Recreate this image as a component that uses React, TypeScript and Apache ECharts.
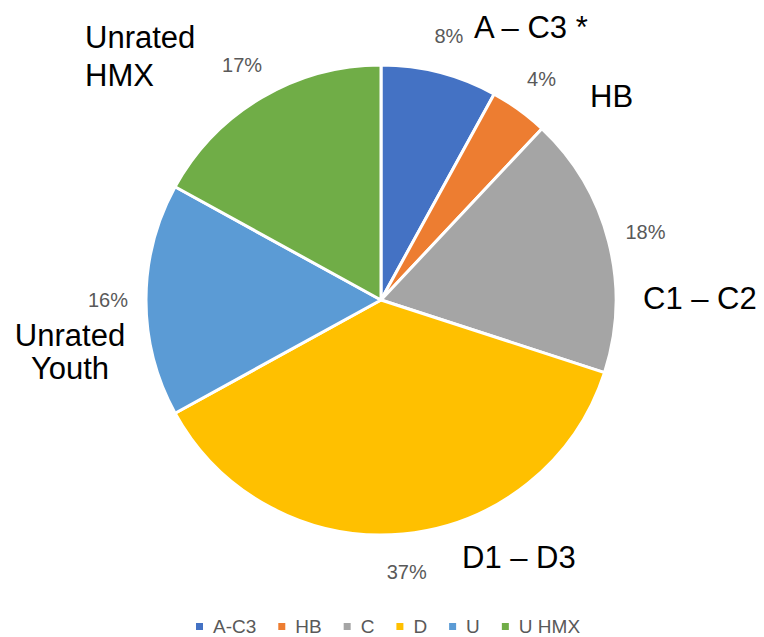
import React, { useEffect, useRef } from "react";
import * as echarts from "echarts";

const categories = ["A-C3", "HB", "C", "D", "U", "U HMX"];
const shares = [8, 4, 18, 37, 16, 17];
const colors = ["#4472C4", "#ED7D31", "#A5A5A5", "#FFC000", "#5B9BD5", "#70AD47"];
const annotations = ["A – C3 *", "HB", "C1 – C2", "D1 – D3", "Unrated\nYouth", "Unrated\nHMX"];

export default function App() {
  const ref = useRef<HTMLDivElement>(null);
  useEffect(() => {
    if (!ref.current) return;
    const chart = echarts.init(ref.current, null, { renderer: "svg" });
    const data = categories.map((name, i) => ({ name, value: shares[i], itemStyle: { color: colors[i] } }));
    const font = "'Liberation Sans', Arial, sans-serif";
    const big = { fontSize: 31, fontFamily: font, fill: "#000" };
    chart.setOption({
      animation: false,
      backgroundColor: "#fff",
      legend: {
        data: categories,
        left: 194,
        top: 617,
        padding: 0,
        icon: "rect",
        itemWidth: 9,
        itemHeight: 9,
        itemGap: 20,
        textStyle: { color: "#595959", fontSize: 19, fontFamily: font, padding: [0, 0, 0, 4] },
      },
      series: [
        {
          type: "pie",
          center: [381, 300],
          radius: [0, 235],
          startAngle: 90,
          clockwise: true,
          data,
          itemStyle: { borderColor: "#fff", borderWidth: 3 },
          label: { show: false },
          labelLine: { show: false },
          emphasis: { disabled: true },
        },
        {
          type: "pie",
          center: [381, 300],
          radius: [250, 290],
          startAngle: 90,
          clockwise: true,
          silent: true,
          data: categories.map((name, i) => ({ name, value: shares[i] })),
          itemStyle: { color: "rgba(0,0,0,0)", borderWidth: 0 },
          label: {
            show: true,
            position: "inside",
            formatter: "{c}%",
            color: "#595959",
            fontSize: 20,
            fontFamily: font,
          },
          labelLine: { show: false },
          emphasis: { disabled: true },
        },
      ],
      graphic: [
        { type: "text", left: 474, top: 12, style: { ...big, text: annotations[0] } },
        { type: "text", left: 590, top: 81, style: { ...big, text: annotations[1] } },
        { type: "text", left: 643, top: 283, style: { ...big, text: annotations[2] } },
        { type: "text", left: 462, top: 542, style: { ...big, text: annotations[3] } },
        {
          type: "text",
          x: 70,
          y: 352,
          style: { ...big, text: annotations[4], align: "center", verticalAlign: "middle", lineHeight: 33 },
        },
        {
          type: "text",
          x: 85,
          y: 56,
          style: { ...big, text: annotations[5], align: "left", verticalAlign: "middle", lineHeight: 38 },
        },
      ],
    });
    return () => chart.dispose();
  }, []);
  return (
    <div
      ref={ref}
      style={{ position: "fixed", left: 0, top: 0, width: 764, height: 637, background: "#fff" }}
    />
  );
}
